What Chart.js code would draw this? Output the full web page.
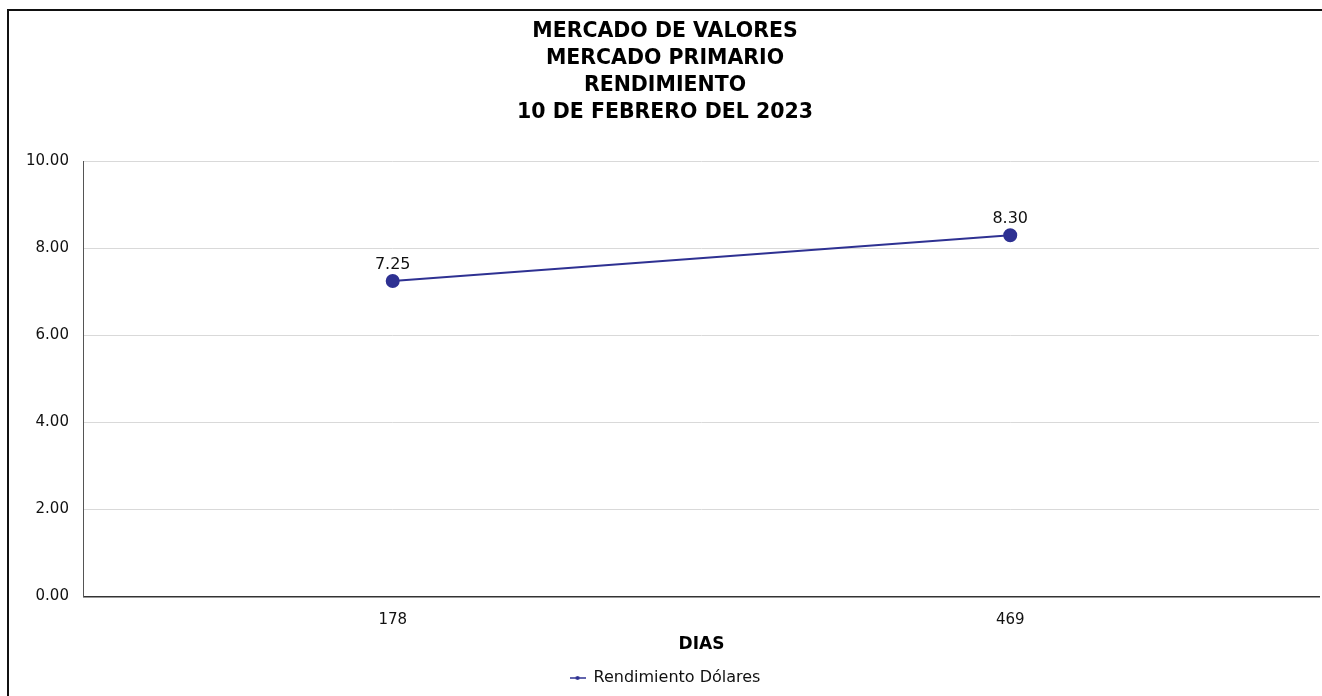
<!DOCTYPE html>
<html>
<head>
<meta charset="utf-8">
<script src="https://cdn.jsdelivr.net/npm/chart.js@4.4.0/dist/chart.umd.min.js"></script>
<style>
  html, body { margin: 0; padding: 0; background: #fff; overflow: hidden; }
  #frame { position: absolute; left: 7px; top: 9px; width: 1330px; height: 700px; border: 2px solid #111; box-sizing: border-box; }
  #wrap { position: absolute; left: 0; top: 0; width: 1322px; height: 696px; }
</style>
</head>
<body>
<div id="frame"></div>
<div id="wrap"><canvas id="chart"></canvas></div>
<script>
const titleLines = ["MERCADO DE VALORES", "MERCADO PRIMARIO", "RENDIMIENTO", "10 DE FEBRERO DEL 2023"];
const dias = ["178", "469"];
const rendimiento = [7.25, 8.30];
const seriesName = "Rendimiento Dólares";
const lineColor = "#2e3192";

// small legend marker: line with a dot in the middle
function legendMarker(){
    const c = document.createElement("canvas");
    c.width = 16; c.height = 8;
    const g = c.getContext("2d");
    g.strokeStyle = lineColor; g.lineWidth = 1.5;
    g.beginPath(); g.moveTo(0, 4); g.lineTo(16, 4); g.stroke();
    g.fillStyle = lineColor;
    g.beginPath(); g.arc(8, 4, 2, 0, Math.PI*2); g.fill();
    return c;
}

const valueLabels = {
    id: "valueLabels",
    afterDatasetsDraw(chart){
        const ctx = chart.ctx;
        chart.data.datasets.forEach((ds, i) => {
            chart.getDatasetMeta(i).data.forEach((pt, j) => {
                ctx.save();
                ctx.font = "16px 'DejaVu Sans'";
                ctx.fillStyle = "#111";
                ctx.textAlign = "center";
                ctx.textBaseline = "middle";
                ctx.fillText(ds.data[j].toFixed(2), pt.x, pt.y - 16);
                ctx.restore();
            });
        });
    }
};

const ctx = document.getElementById("chart").getContext("2d");
new Chart(ctx, {
    type: "line",
    data: {
        labels: dias,
        datasets: [{
            label: seriesName,
            data: rendimiento,
            borderColor: lineColor,
            backgroundColor: lineColor,
            borderWidth: 2,
            pointRadius: 6,
            pointHoverRadius: 6,
            pointStyle: "circle",
            tension: 0
        }]
    },
    options: {
        responsive: true,
        maintainAspectRatio: false,
        animation: false,
        layout: { autoPadding: false, padding: { top: 18, left: 11, right: 3, bottom: 0 } },
        plugins: {
            title: {
                display: true,
                text: titleLines,
                color: "#000",
                font: { family: "'DejaVu Sans'", size: 20.5, weight: "bold", lineHeight: 1.32 },
                padding: { top: 0, bottom: 35 }
            },
            legend: {
                position: "bottom",
                labels: {
                    usePointStyle: true,
                    pointStyle: legendMarker(),
                    color: "#111",
                    font: { family: "'DejaVu Sans'", size: 16 },
                    padding: 6
                }
            },
            tooltip: { enabled: false }
        },
        scales: {
            x: {
                offset: true,
                grid: { display: false, drawTicks: false },
                border: { color: "#333", width: 1.5 },
                ticks: { color: "#111", font: { family: "'DejaVu Sans'", size: 15 }, padding: 15 },
                title: { display: true, text: "DIAS", color: "#000", font: { family: "'DejaVu Sans'", size: 17, weight: "bold" }, padding: { top: -10, bottom: 9 } }
            },
            y: {
                min: 0, max: 10,
                ticks: { stepSize: 2, color: "#111", font: { family: "'DejaVu Sans'", size: 15 }, padding: 15,
                    callback: v => v.toFixed(2) },
                grid: { color: "#d9d9d9", drawTicks: false },
                border: { color: "#555", width: 1 }
            }
        }
    },
    plugins: [valueLabels]
});
</script>
</body>
</html>
